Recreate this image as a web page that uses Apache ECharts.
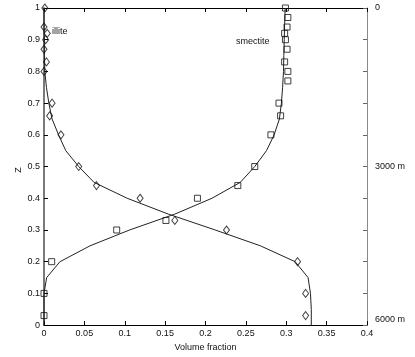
<!DOCTYPE html>
<html>
<head>
<meta charset="utf-8">
<script src="https://cdn.jsdelivr.net/npm/echarts@6/dist/echarts.min.js"></script>
<style>
  html, body { margin: 0; padding: 0; background: #fff; }
  #chart { width: 415px; height: 357px; }
</style>
</head>
<body>
<div id="chart"></div>
<script>
// measured points (open markers)
var illiteZ = [1, 0.94, 0.92, 0.9, 0.87, 0.83, 0.8, 0.7, 0.66, 0.6, 0.5, 0.44, 0.4, 0.33, 0.3, 0.2, 0.1, 0.03];
var illiteX = [0.001, 0, 0.004, 0.002, 0, 0.003, 0, 0.010, 0.007, 0.021, 0.043, 0.065, 0.119, 0.162, 0.226, 0.314, 0.324, 0.324];
var smectiteZ = [1, 0.97, 0.94, 0.92, 0.9, 0.87, 0.83, 0.8, 0.77, 0.7, 0.66, 0.6, 0.5, 0.44, 0.4, 0.33, 0.3, 0.2, 0.1, 0.03];
var smectiteX = [0.299, 0.302, 0.301, 0.298, 0.299, 0.301, 0.298, 0.302, 0.302, 0.291, 0.293, 0.281, 0.261, 0.240, 0.190, 0.151, 0.090, 0.0095, 0, 0];

// model curves, sampled every 0.05 in Z
var fitZ = [1, 0.95, 0.9, 0.85, 0.8, 0.75, 0.7, 0.65, 0.6, 0.55, 0.5, 0.45, 0.4, 0.35, 0.3, 0.25, 0.2, 0.15, 0.1, 0.05, 0];
var illiteFit = [0, 0, 0.0003, 0.0006, 0.001, 0.003, 0.006, 0.010, 0.018, 0.027, 0.043, 0.062, 0.103, 0.154, 0.212, 0.268, 0.311, 0.327, 0.330, 0.331, 0.331];
var smectiteFit = [0.2987, 0.298, 0.2975, 0.297, 0.2966, 0.2955, 0.294, 0.2915, 0.285, 0.2755, 0.261, 0.243, 0.208, 0.162, 0.106, 0.057, 0.0198, 0.0033, 0, 0, 0];

var xTicks = [0, 0.05, 0.1, 0.15, 0.2, 0.25, 0.3, 0.35, 0.4];
var depthLabels = { top: '0', mid: '3000 m', bottom: '6000 m' };

function pairs(xs, zs) {
    return xs.map(function (x, i) { return [x, zs[i]]; });
}

var font = '"Liberation Sans", Arial, sans-serif';
var chart = echarts.init(document.getElementById('chart'));

chart.setOption({
    animation: false,
    backgroundColor: '#fff',
    textStyle: { fontFamily: font },
    grid: { left: 44, right: 48, top: 8, bottom: 25 },
    xAxis: [{
        type: 'value', position: 'bottom', min: 0, max: 0.4, interval: 0.05,
        splitLine: { show: false },
        axisLine: { onZero: false, lineStyle: { color: '#000', width: 1 } },
        axisTick: { inside: true, length: 4, lineStyle: { color: '#000' } },
        axisLabel: {
            margin: 4, fontSize: 9, color: '#111', fontFamily: font,
            formatter: function (v) {
                var s = String(+v.toFixed(2));
                return xTicks.indexOf(+s) >= 0 ? s : '';
            }
        },
        name: 'Volume fraction', nameLocation: 'middle', nameGap: 13,
        nameTextStyle: { fontSize: 9, color: '#111', fontFamily: font }
    }, {
        type: 'value', position: 'top', min: 0, max: 0.4, interval: 0.05,
        splitLine: { show: false },
        axisLine: { onZero: false, lineStyle: { color: '#000', width: 1 } },
        axisTick: { inside: true, length: 4, lineStyle: { color: '#000' } },
        axisLabel: { show: false }
    }],
    yAxis: [{
        type: 'value', position: 'left', min: 0, max: 1, interval: 0.1,
        splitLine: { show: false },
        axisLine: { show: true, onZero: false, lineStyle: { color: '#7a7a7a', width: 2 } },
        axisTick: { show: true, inside: true, length: 4, lineStyle: { color: '#000' } },
        axisLabel: {
            margin: 4, fontSize: 9, color: '#111', fontFamily: font,
            formatter: function (v) { return String(+v.toFixed(2)); }
        }
    }, {
        type: 'value', position: 'right', min: 0, max: 1, interval: 0.1,
        splitLine: { show: false },
        axisLine: { show: true, onZero: false, lineStyle: { color: '#8a8a8a', width: 1 } },
        axisTick: { show: true, inside: true, length: 4, lineStyle: { color: '#666' } },
        axisLabel: {
            margin: 8, fontSize: 9, color: '#111', fontFamily: font,
            formatter: function (v) {
                if (Math.abs(v - 1) < 1e-6) return depthLabels.top;
                if (Math.abs(v - 0.5) < 1e-6) return depthLabels.mid;
                if (Math.abs(v) < 1e-6) return '{b|' + depthLabels.bottom + '}';
                return '';
            },
            rich: { b: { fontSize: 9, color: '#111', fontFamily: font, padding: [0, 0, 12, 0] } }
        }
    }],
    series: [{
        name: 'illite fit', type: 'line', data: pairs(illiteFit, fitZ),
        showSymbol: false, symbol: 'none', z: 2,
        lineStyle: { color: '#222', width: 1 }
    }, {
        name: 'smectite fit', type: 'line', data: pairs(smectiteFit, fitZ),
        showSymbol: false, symbol: 'none', z: 2,
        lineStyle: { color: '#222', width: 1 }
    }, {
        name: 'illite', type: 'scatter', data: pairs(illiteX, illiteZ),
        symbol: 'diamond', symbolSize: [6, 8], z: 3,
        itemStyle: { color: 'rgba(0,0,0,0)', borderColor: '#111', borderWidth: 1 }
    }, {
        name: 'smectite', type: 'scatter', data: pairs(smectiteX, smectiteZ),
        symbol: 'rect', symbolSize: 6, z: 3,
        itemStyle: { color: 'rgba(0,0,0,0)', borderColor: '#111', borderWidth: 1 }
    }],
    graphic: [{
        type: 'text', x: 19, y: 170, rotation: Math.PI / 2,
        style: { text: 'Z', fontSize: 9, fill: '#111', fontFamily: font, align: 'center', verticalAlign: 'middle' }
    }, {
        type: 'text', left: 52, top: 27,
        style: { text: 'illite', fontSize: 9, fill: '#111', fontFamily: font }
    }, {
        type: 'text', left: 236, top: 37,
        style: { text: 'smectite', fontSize: 9, fill: '#111', fontFamily: font }
    }]
});
</script>
</body>
</html>
